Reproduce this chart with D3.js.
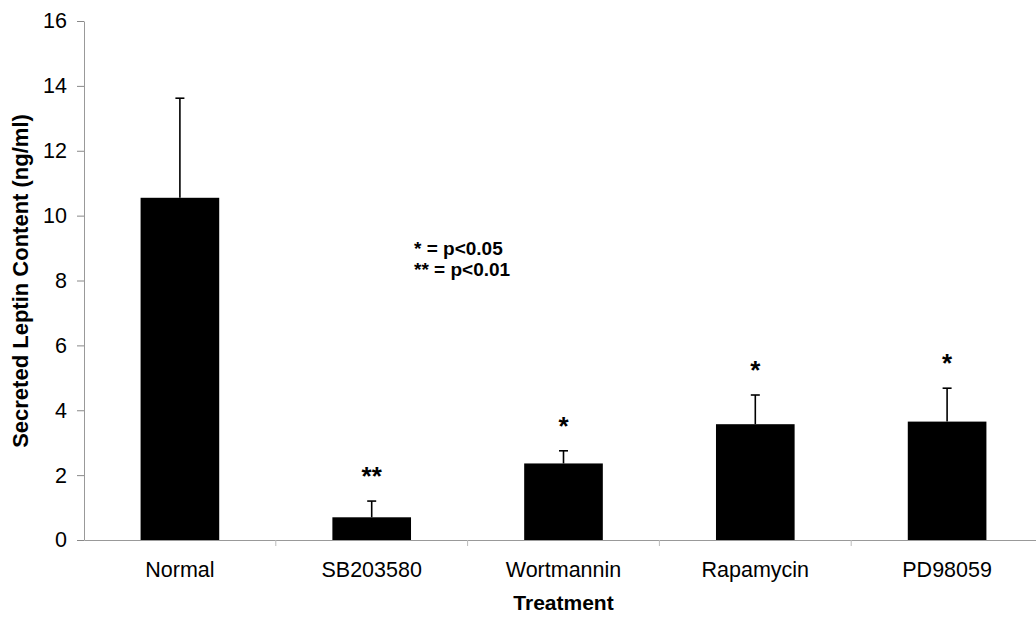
<!DOCTYPE html>
<html>
<head>
    <meta charset="utf-8">
    <title>Secreted Leptin Content</title>
    <style>
        body { margin: 0; background: #fff; }
    </style>
</head>
<body>

    <script src="https://d3js.org/d3.v7.min.js"></script>
    <script type="text/javascript">

    // data
    var treatments = ["Normal", "SB203580", "Wortmannin", "Rapamycin", "PD98059"];
    var means      = [10.55, 0.70, 2.36, 3.57, 3.65];
    var errors     = [3.07, 0.50, 0.39, 0.90, 1.03];
    var marks      = ["", "**", "*", "*", "*"];
    var yTicks     = [0, 2, 4, 6, 8, 10, 12, 14, 16];
    var legendLines = ["* = p<0.05", "** = p<0.01"];

    var W = 1036, H = 617;
    var plotLeft = 84, plotRight = 1043, plotTop = 21, plotBottom = 540;

    var x = d3.scaleBand()
        .domain(treatments)
        .range([plotLeft, plotRight])
        .paddingInner(0.59)
        .paddingOuter(0.295);

    var y = d3.scaleLinear().domain([0, 16]).range([plotBottom, plotTop]);

    var data = treatments.map(function(t, i) {
        return {name: t, mean: means[i], err: errors[i], mark: marks[i]};
    });

    var svg = d3.select("body")
        .append("svg")
        .attr("width", W)
        .attr("height", H)
        .style("font-family", "Arial, 'Liberation Sans', sans-serif");

    // y axis
    var yAxis = svg.append("g")
        .attr("transform", "translate(" + plotLeft + ",0)")
        .call(d3.axisLeft(y).tickValues(yTicks).tickSize(7).tickPadding(10).tickSizeOuter(0));
    yAxis.select(".domain").attr("stroke", "#999");
    yAxis.selectAll(".tick line").attr("stroke", "#888");
    yAxis.selectAll(".tick text")
        .attr("fill", "#000")
        .style("font-size", "21.5px");

    // x axis (category boundaries as ticks)
    var step = x.step();
    var xAxis = svg.append("g")
        .attr("transform", "translate(0," + plotBottom + ")")
        .call(d3.axisBottom(x).tickSize(0).tickPadding(22).tickSizeOuter(0));
    xAxis.select(".domain").attr("stroke", "#999");
    xAxis.selectAll(".tick text")
        .attr("fill", "#000")
        .style("font-size", "21.5px");

    xAxis.selectAll(".sep")
        .data(treatments.slice(1))
        .enter().append("line")
        .attr("class", "sep")
        .attr("x1", function(d) { return x(d) - (step - x.bandwidth()) / 2; })
        .attr("x2", function(d) { return x(d) - (step - x.bandwidth()) / 2; })
        .attr("y1", 0)
        .attr("y2", 6)
        .attr("stroke", "#bbb");

    // bars
    svg.selectAll(".bar")
        .data(data)
        .enter().append("rect")
        .attr("class", "bar")
        .attr("x", function(d) { return x(d.name); })
        .attr("y", function(d) { return y(d.mean); })
        .attr("width", x.bandwidth())
        .attr("height", function(d) { return y(0) - y(d.mean); })
        .attr("fill", "#000");

    // error bars (upper only)
    var eb = svg.selectAll(".err")
        .data(data)
        .enter().append("g")
        .attr("class", "err")
        .attr("stroke", "#000")
        .attr("stroke-width", 1.6);

    eb.append("line")
        .attr("x1", function(d) { return x(d.name) + x.bandwidth() / 2; })
        .attr("x2", function(d) { return x(d.name) + x.bandwidth() / 2; })
        .attr("y1", function(d) { return y(d.mean); })
        .attr("y2", function(d) { return y(d.mean + d.err); });

    eb.append("line")
        .attr("x1", function(d) { return x(d.name) + x.bandwidth() / 2 - 4.5; })
        .attr("x2", function(d) { return x(d.name) + x.bandwidth() / 2 + 4.5; })
        .attr("y1", function(d) { return y(d.mean + d.err); })
        .attr("y2", function(d) { return y(d.mean + d.err); });

    // significance stars
    svg.selectAll(".star")
        .data(data.filter(function(d) { return d.mark; }))
        .enter().append("text")
        .attr("class", "star")
        .attr("x", function(d) { return x(d.name) + x.bandwidth() / 2; })
        .attr("y", function(d) { return y(d.mean + d.err) - 16; })
        .attr("text-anchor", "middle")
        .style("font-size", "26px")
        .style("font-weight", "bold")
        .text(function(d) { return d.mark; });

    // legend
    svg.selectAll(".legend")
        .data(legendLines)
        .enter().append("text")
        .attr("class", "legend")
        .attr("x", 414)
        .attr("y", function(d, i) { return 255 + i * 21; })
        .style("font-size", "19px")
        .style("font-weight", "bold")
        .text(function(d) { return d; });

    // axis titles
    svg.append("text")
        .attr("transform", "translate(28,281) rotate(-90)")
        .attr("text-anchor", "middle")
        .style("font-size", "22px")
        .style("font-weight", "bold")
        .text("Secreted Leptin Content (ng/ml)");

    svg.append("text")
        .attr("x", x("Wortmannin") + x.bandwidth() / 2)
        .attr("y", 610)
        .attr("text-anchor", "middle")
        .style("font-size", "21px")
        .style("font-weight", "bold")
        .text("Treatment");

    </script>
</body>
</html>
